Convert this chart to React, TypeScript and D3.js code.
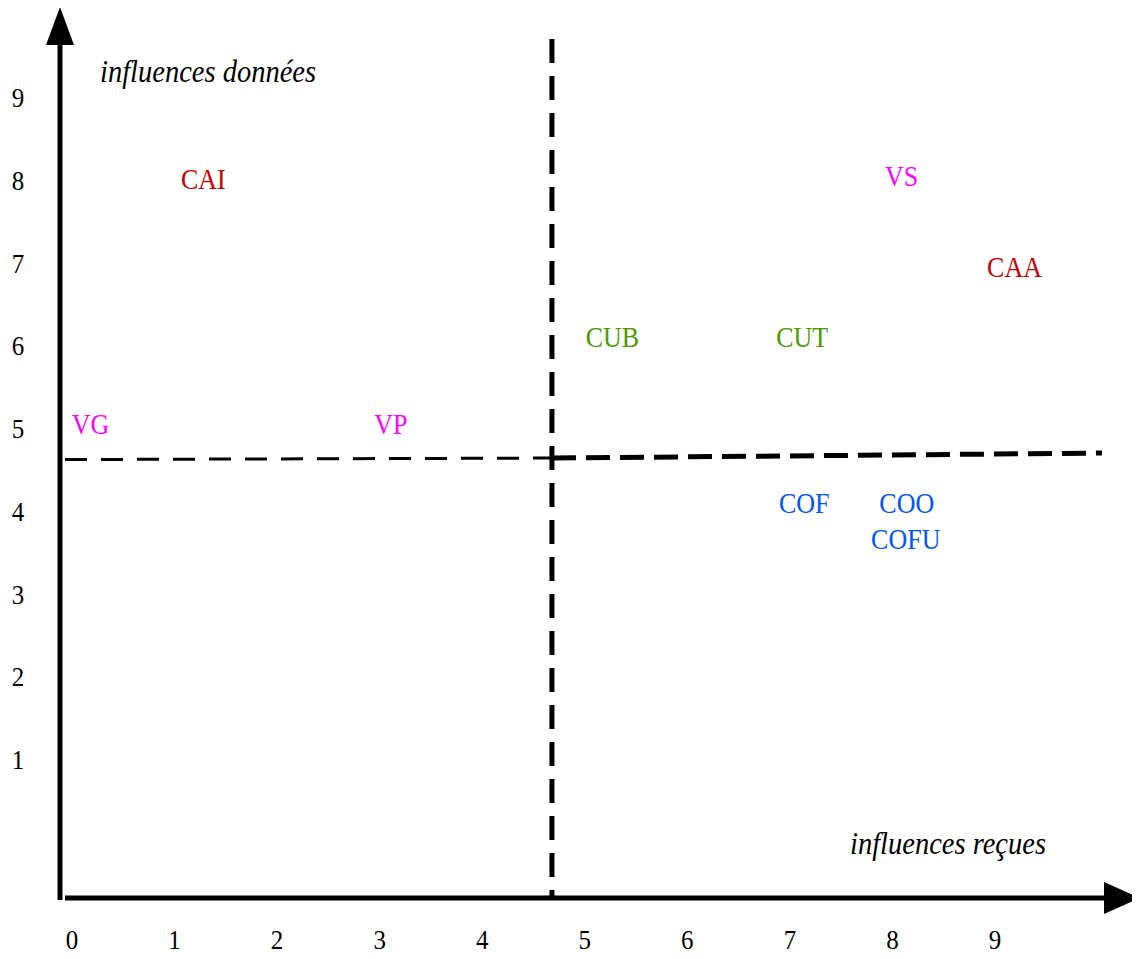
import { useEffect, useRef } from "react";
import * as d3 from "d3";

// étiquettes des acteurs et leurs positions (influences reçues, influences données)
const labels = ["CAI", "VS", "CAA", "CUB", "CUT", "VG", "VP", "COF", "COO", "COFU"];
const recues = [1.28, 8.09, 9.19, 5.27, 7.12, 0.18, 3.11, 7.14, 8.14, 8.13];
const donnees = [8.02, 8.05, 6.95, 6.11, 6.11, 5.05, 5.05, 4.1, 4.1, 3.67];
const groups = ["rouge", "magenta", "rouge", "vert", "vert", "magenta", "magenta", "bleu", "bleu", "bleu"];

const xTicks = [0, 1, 2, 3, 4, 5, 6, 7, 8, 9];
const yTicks = [1, 2, 3, 4, 5, 6, 7, 8, 9];

// seuils des quadrants
const seuilX = 4.68;
const seuilY = 4.64;

const colors: Record<string, string> = {
  rouge: "#cc0000",
  magenta: "#ff00ff",
  vert: "#4c9a00",
  bleu: "#0055ff",
};

const App = () => {
  const ref = useRef<HTMLDivElement>(null);

  useEffect(() => {
    const width = 1140;
    const height = 959;
    const font = "'Liberation Serif', 'Times New Roman', serif";

    d3.select(ref.current).selectAll("*").remove();

    const svg = d3.select(ref.current)
      .append("svg")
      .attr("width", width)
      .attr("height", height)
      .style("display", "block");

    const x = d3.scaleLinear().domain([0, 9]).range([72, 995]);
    const y = d3.scaleLinear().domain([0, 9]).range([842, 97.3]);

    const originX = 60;
    const originY = 898;

    // ligne de seuil verticale
    svg.append("line")
      .attr("x1", x(seuilX)).attr("x2", x(seuilX))
      .attr("y1", 39).attr("y2", originY)
      .attr("stroke", "#000")
      .attr("stroke-width", 5)
      .attr("stroke-dasharray", "24 13");

    // ligne de seuil horizontale (deux morceaux, le droit plus épais)
    svg.append("line")
      .attr("x1", originX + 5).attr("x2", x(seuilX))
      .attr("y1", y(seuilY) + 1.5).attr("y2", y(seuilY))
      .attr("stroke", "#000")
      .attr("stroke-width", 3)
      .attr("stroke-dasharray", "22 14");
    svg.append("line")
      .attr("x1", x(seuilX)).attr("x2", 1102)
      .attr("y1", y(seuilY)).attr("y2", y(seuilY) - 5)
      .attr("stroke", "#000")
      .attr("stroke-width", 5)
      .attr("stroke-dasharray", "24 10");

    // axes avec flèches
    svg.append("line")
      .attr("x1", originX).attr("x2", originX)
      .attr("y1", originY + 2).attr("y2", 44)
      .attr("stroke", "#000").attr("stroke-width", 5);
    svg.append("path")
      .attr("d", `M${originX},7 L${originX - 14},45 L${originX + 14},45 Z`)
      .attr("fill", "#000");

    svg.append("line")
      .attr("x1", originX + 5).attr("x2", 1108)
      .attr("y1", originY).attr("y2", originY)
      .attr("stroke", "#000").attr("stroke-width", 5);
    svg.append("path")
      .attr("d", `M1140,898 L1104,882 L1104,914 Z`)
      .attr("fill", "#000");

    // graduations
    svg.append("g")
      .selectAll("text")
      .data(xTicks)
      .join("text")
      .attr("transform", d => `translate(${x(d)},${949}) scale(1,1.12)`)
      .attr("text-anchor", "middle")
      .style("font-family", font)
      .style("font-size", "25px")
      .text(d => d);

    svg.append("g")
      .selectAll("text")
      .data(yTicks)
      .join("text")
      .attr("transform", d => `translate(${18},${y(d)}) scale(1,1.12)`)
      .attr("text-anchor", "middle")
      .attr("dy", "0.35em")
      .style("font-family", font)
      .style("font-size", "25px")
      .text(d => d);

    // titres des axes
    svg.append("text")
      .attr("transform", "translate(100,82) scale(1,1.08)")
      .style("font-family", font)
      .style("font-style", "italic")
      .style("font-size", "28.5px")
      .text("influences données");
    svg.append("text")
      .attr("transform", "translate(1046,854) scale(1,1.08)")
      .attr("text-anchor", "end")
      .style("font-family", font)
      .style("font-style", "italic")
      .style("font-size", "28.5px")
      .text("influences reçues");

    // acteurs
    svg.append("g")
      .selectAll("text")
      .data(labels)
      .join("text")
      .attr("transform", (_, i) => `translate(${x(recues[i])},${y(donnees[i])}) scale(1,1.12)`)
      .attr("text-anchor", "middle")
      .attr("dy", "0.35em")
      .attr("fill", (_, i) => colors[groups[i]])
      .style("font-family", font)
      .style("font-size", "26px")
      .text(d => d);
  }, []);

  return <div ref={ref} style={{ margin: -8 }}></div>;
};

export default App;
